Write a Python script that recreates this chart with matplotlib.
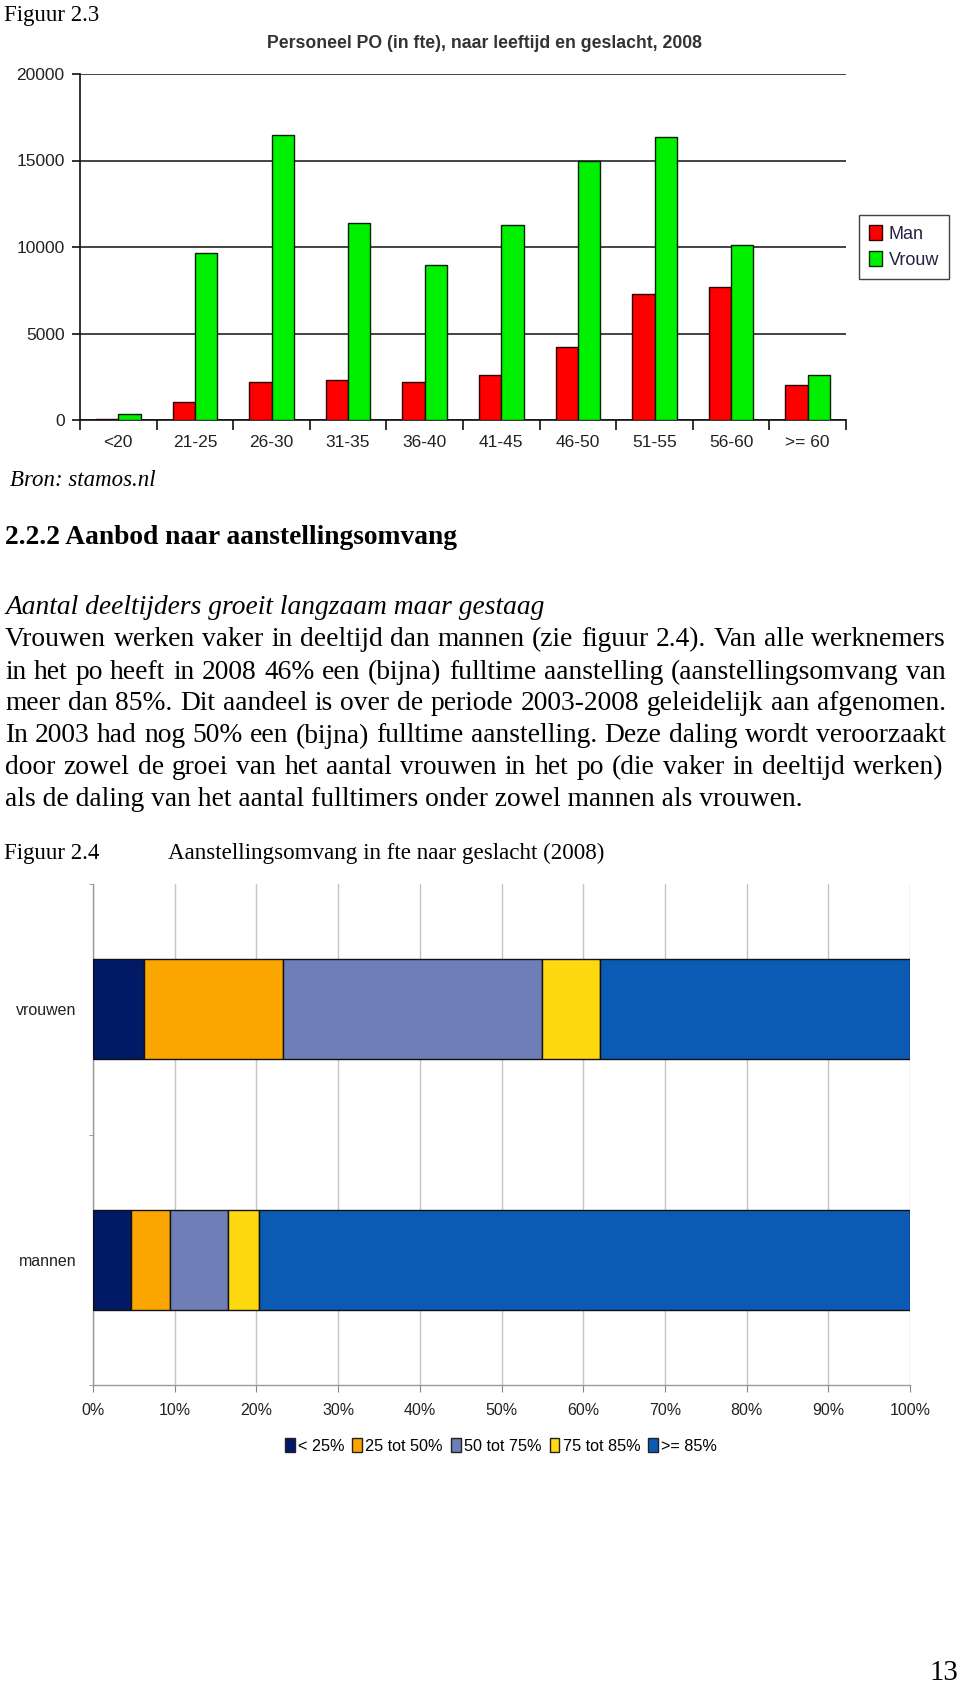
import matplotlib
matplotlib.use("Agg")
import matplotlib.pyplot as plt
import numpy as np
from matplotlib.patches import Patch

# figure 2.3 data: fte per age group
ages = ['<20', '21-25', '26-30', '31-35', '36-40', '41-45', '46-50', '51-55', '56-60', '>= 60']
man = [60, 1050, 2200, 2290, 2190, 2580, 4230, 7270, 7690, 2000]
vrouw = [350, 9650, 16500, 11400, 8950, 11300, 14950, 16330, 10130, 2600]
y_ticks = [0, 5000, 10000, 15000, 20000]

# figure 2.4 data: share per size of appointment (mannen, vrouwen)
groups = ['mannen', 'vrouwen']
classes = ['< 25%', '25 tot 50%', '50 tot 75%', '75 tot 85%', '>= 85%']
share_lt25 = [4.6, 6.3]
share_25_50 = [4.8, 16.9]
share_50_75 = [7.1, 31.8]
share_75_85 = [3.8, 7.1]
share_ge85 = [79.7, 37.9]
pct_ticks = list(range(0, 101, 10))

para_lines = [
    "Vrouwen werken vaker in deeltijd dan mannen (zie figuur 2.4). Van alle werknemers",
    "in het po heeft in 2008 46% een (bijna) fulltime aanstelling (aanstellingsomvang van",
    "meer dan 85%. Dit aandeel is over de periode 2003-2008 geleidelijk aan afgenomen.",
    "In 2003 had nog 50% een (bijna) fulltime aanstelling. Deze daling wordt veroorzaakt",
    "door zowel de groei van het aantal vrouwen in het po (die vaker in deeltijd werken)",
    "als de daling van het aantal fulltimers onder zowel mannen als vrouwen.",
]

W, H = 960, 1686
fig = plt.figure(figsize=(W / 100, H / 100), dpi=100)
fig.patch.set_facecolor('white')
renderer = fig.canvas.get_renderer()
serif = 'Liberation Serif'
sans = 'Liberation Sans'


def text_width(s, size, **kw):
    t = fig.text(0, 0, s, fontsize=size, **kw)
    w = t.get_window_extent(renderer).width
    t.remove()
    return w


def fit_size(s, width, **kw):
    return 10 * width / text_width(s, 10, **kw)


def put(s, x, y, size, ha='left', **kw):
    fig.text(x / W, 1 - y / H, s, fontsize=size, ha=ha, va='center', **kw)


def justify(s, x0, x1, y, size, **kw):
    words = s.split()
    widths = [text_width(w, size, **kw) for w in words]
    gap = (x1 - x0 - sum(widths)) / (len(words) - 1)
    x = x0
    for w, wd in zip(words, widths):
        put(w, x, y, size, **kw)
        x += wd + gap


# ---- page text ----
body = fit_size(para_lines[-1], 800, family=serif)
put("Figuur 2.3", 4, 15, fit_size("Figuur 2.3", 95, family=serif), family=serif)
put("Bron: stamos.nl", 10, 481, fit_size("Bron: stamos.nl", 146, family=serif, style='italic'),
    family=serif, style='italic')
heading = "2.2.2 Aanbod naar aanstellingsomvang"
put(heading, 5, 537, fit_size(heading, 456, family=serif, weight='bold'), family=serif, weight='bold')
sub = "Aantal deeltijders groeit langzaam maar gestaag"
put(sub, 5, 608, fit_size(sub, 542, family=serif, style='italic'), family=serif, style='italic')

line_y = [640, 672, 704, 736, 768, 800]
right_edges = [946, 946, 946, 946, 943]
for i, line in enumerate(para_lines):
    if i < len(para_lines) - 1:
        justify(line, 5, right_edges[i], line_y[i], body, family=serif)
    else:
        put(line, 5, line_y[i], body, family=serif)

put("Figuur 2.4", 4, 853, fit_size("Figuur 2.4", 95, family=serif), family=serif)
cap = "Aanstellingsomvang in fte naar geslacht (2008)"
put(cap, 168, 853, fit_size(cap, 437, family=serif), family=serif)
put("13", 958, 1673, body * 1.05, ha='right', family=serif)

# ---- figure 2.3: grouped bars ----
ax1 = fig.add_axes([80 / W, 1 - 420 / H, 766 / W, 346 / H])
x = np.arange(len(ages))
bw = 0.29
ax1.bar(x - bw / 2, man, bw, color='#ff0000', edgecolor='#2a0000', linewidth=1, label='Man', zorder=3)
ax1.bar(x + bw / 2, vrouw, bw, color='#00f000', edgecolor='#002200', linewidth=1, label='Vrouw', zorder=3)
ax1.set_xlim(-0.5, len(ages) - 0.5)
ax1.set_ylim(0, 20000)
ax1.set_yticks(y_ticks)
ax1.set_yticklabels([str(v) for v in y_ticks], fontsize=12.5, family=sans, color='#222222')
ax1.yaxis.grid(True, color='#111111', linewidth=1.1)
ax1.set_axisbelow(True)
ax1.set_xticks(x)
ax1.set_xticklabels(ages, fontsize=12.5, family=sans, color='#222222')
ax1.set_xticks(np.arange(-0.5, len(ages)), minor=True)
ax1.tick_params(axis='x', which='major', length=0, pad=11)
ax1.tick_params(axis='x', which='minor', length=7, width=1.2, color='#111111')
ax1.tick_params(axis='y', length=6, width=1.2, color='#111111', pad=5)
for side in ['top', 'right']:
    ax1.spines[side].set_visible(False)
for side in ['left', 'bottom']:
    ax1.spines[side].set_color('#111111')
    ax1.spines[side].set_linewidth(1.2)

title = "Personeel PO (in fte), naar leeftijd en geslacht, 2008"
put(title, 484, 43, fit_size(title, 434, family=sans, weight='bold'), ha='center',
    family=sans, weight='bold', color='#333333')
leg1 = fig.legend(handles=[Patch(facecolor='#ff0000', edgecolor='#300000', label='Man'),
                           Patch(facecolor='#00f000', edgecolor='#003000', label='Vrouw')],
                  loc='center', bbox_to_anchor=(904 / W, 1 - 247 / H),
                  prop={'family': sans, 'size': 13}, fancybox=False, edgecolor='#111111',
                  handlelength=0.75, handleheight=0.9, handletextpad=0.35, borderpad=0.55,
                  labelspacing=0.45, borderaxespad=0)
leg1.get_frame().set_linewidth(1.0)
for t in leg1.get_texts():
    t.set_color('#222244')

# ---- figure 2.4: stacked horizontal bars ----
ax2 = fig.add_axes([93 / W, 1 - 1385 / H, 817 / W, 501 / H])
colors = ['#001a66', '#fba600', '#6e7fb8', '#ffd90f', '#0b5bb5']
series = [share_lt25, share_25_50, share_50_75, share_75_85, share_ge85]
y = np.arange(len(groups))
left = np.zeros(len(groups))
for name, vals, col in zip(classes, series, colors):
    ax2.barh(y, vals, 0.4, left=left, color=col, edgecolor='#111111', linewidth=1, label=name, zorder=3)
    left += np.array(vals)
ax2.set_xlim(0, 100)
ax2.set_ylim(-0.5, len(groups) - 0.5)
ax2.set_xticks(pct_ticks)
ax2.set_xticklabels([f"{v}%" for v in pct_ticks], fontsize=11.5, family=sans, color='#222222')
ax2.xaxis.grid(True, color='#c4c4c4', linewidth=1)
ax2.set_axisbelow(True)
ax2.set_yticks(y)
ax2.set_yticklabels(groups, fontsize=11.5, family=sans, color='#222222')
ax2.set_yticks(np.arange(-0.5, len(groups)), minor=True)
ax2.tick_params(axis='y', which='major', length=0, pad=12)
ax2.tick_params(axis='y', which='minor', length=3, color='#888888')
ax2.tick_params(axis='x', length=5, color='#888888', pad=8)
for side in ['top', 'right']:
    ax2.spines[side].set_visible(False)
for side in ['left', 'bottom']:
    ax2.spines[side].set_color('#999999')
    ax2.spines[side].set_linewidth(1)

handles = [Patch(facecolor=c, edgecolor='#222222', label=n) for n, c in zip(classes, colors)]
fig.legend(handles=handles, loc='center', bbox_to_anchor=(501 / W, 1 - 1446 / H), ncol=5,
           frameon=False, prop={'family': sans, 'size': 11.7}, handlelength=0.6, handleheight=0.9,
           handletextpad=0.2, columnspacing=0.5, borderaxespad=0)

fig.savefig('out.png', dpi=100, facecolor='white')
